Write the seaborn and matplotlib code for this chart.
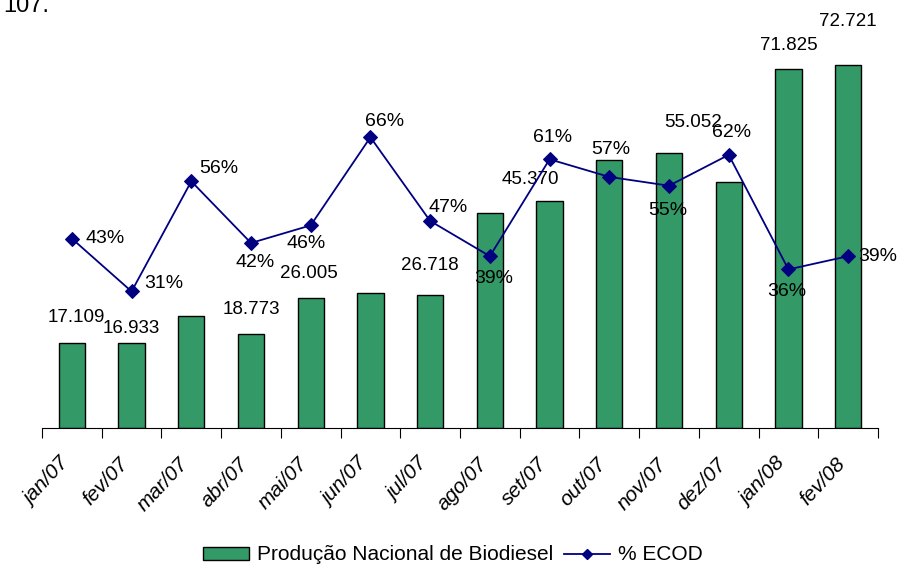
import matplotlib.pyplot as plt
import seaborn as sns
import pandas as pd
from matplotlib.lines import Line2D
from matplotlib.patches import Patch
from matplotlib.transforms import ScaledTranslation

# Data
months = ['jan/07', 'fev/07', 'mar/07', 'abr/07', 'mai/07', 'jun/07', 'jul/07',
          'ago/07', 'set/07', 'out/07', 'nov/07', 'dez/07', 'jan/08', 'fev/08']
producao = [17.109, 16.933, 22.5, 18.773, 26.005, 27.0, 26.718,
            43.1, 45.370, 53.7, 55.052, 49.3, 71.825, 72.721]
ecod = [0.43, 0.31, 0.56, 0.42, 0.46, 0.66, 0.47,
        0.39, 0.61, 0.57, 0.55, 0.62, 0.36, 0.39]
# which bar labels are shown in the original
show_bar_label = [True, True, False, True, True, False, True,
                  False, True, False, True, False, True, True]

# label offsets in points (layout only)
bar_off = [(3, 18), (0, 11), (0, 0), (0, 18), (-1, 18), (0, 0), (0, 21),
           (0, 0), (-14, 16), (0, 0), (17, 22), (0, 0), (0, 17), (0, 31)]
pct_off = [(24, 0), (23, 6), (20, 9), (3, -14), (-3, -13), (10, 11), (13, 10),
           (3, -16), (2, 16), (1, 20), (-1, -18), (2, 16), (-1, -16), (21, 0)]

df = pd.DataFrame({'mes': months, 'producao': producao, 'ecod': ecod})

bar_color = '#339966'
line_color = '#000080'

plt.rcParams['font.family'] = ['Liberation Sans', 'DejaVu Sans']

fig = plt.figure(figsize=(9.06, 5.68), dpi=100)
ax = fig.add_axes([42 / 906, 1 - 428 / 568, (878 - 42) / 906, 400 / 568])

sns.barplot(data=df, x='mes', y='producao', color=bar_color, width=0.44,
            edgecolor='black', linewidth=1, saturation=1, ax=ax)
ax.set_ylim(0, 80.1)
ax.set_xlim(-0.5, len(months) - 0.5)

for i, (v, show) in enumerate(zip(producao, show_bar_label)):
    if show:
        ax.annotate(f'{v:.3f}', (i, v), xytext=bar_off[i], textcoords='offset points',
                    ha='center', va='center', fontsize=13.5)

ax2 = ax.twinx()
sns.lineplot(data=df, x='mes', y='ecod', color=line_color, marker='D',
             markersize=7, markeredgecolor=line_color, linewidth=1.3,
             sort=False, ax=ax2)
ax2.set_ylim(0, 0.908)

for i, v in enumerate(ecod):
    ax2.annotate(f'{v:.0%}', (i, v), xytext=pct_off[i], textcoords='offset points',
                 ha='center', va='center', fontsize=14)

for a in (ax, ax2):
    for s in ['top', 'left', 'right']:
        a.spines[s].set_visible(False)
    a.set_yticks([])
    a.set_ylabel('')
    a.set_xlabel('')
    a.patch.set_visible(False)
ax2.spines['bottom'].set_visible(False)

ax.spines['bottom'].set_linewidth(0.8)
ax.set_xticks(range(len(months)))
ax.set_xticklabels(months, rotation=47, ha='right', va='top',
                   rotation_mode='anchor', fontsize=15, style='italic')
ax.tick_params(axis='x', length=0, pad=19)
shift = ScaledTranslation(-13 / 100, 0, fig.dpi_scale_trans)
for lab in ax.get_xticklabels():
    lab.set_transform(lab.get_transform() + shift)
ax.set_xticks([i - 0.5 for i in range(len(months) + 1)], minor=True)
ax.tick_params(axis='x', which='minor', length=7, width=0.8)

fig.text(3 / 906, 1 - 12 / 568, '107.', fontsize=17, va='baseline', ha='left')

handles = [Patch(facecolor=bar_color, edgecolor='black', linewidth=1),
           Line2D([0], [0], color=line_color, marker='D', markersize=5, linewidth=1.3)]
fig.legend(handles, ['Produção Nacional de Biodiesel', '% ECOD'], loc='center',
           bbox_to_anchor=(0.5, 1 - 555 / 568), ncol=2, frameon=False, fontsize=15,
           handlelength=2.2, handleheight=0.6, columnspacing=0.5, handletextpad=0.4)

fig.savefig('out.png', dpi=100)
